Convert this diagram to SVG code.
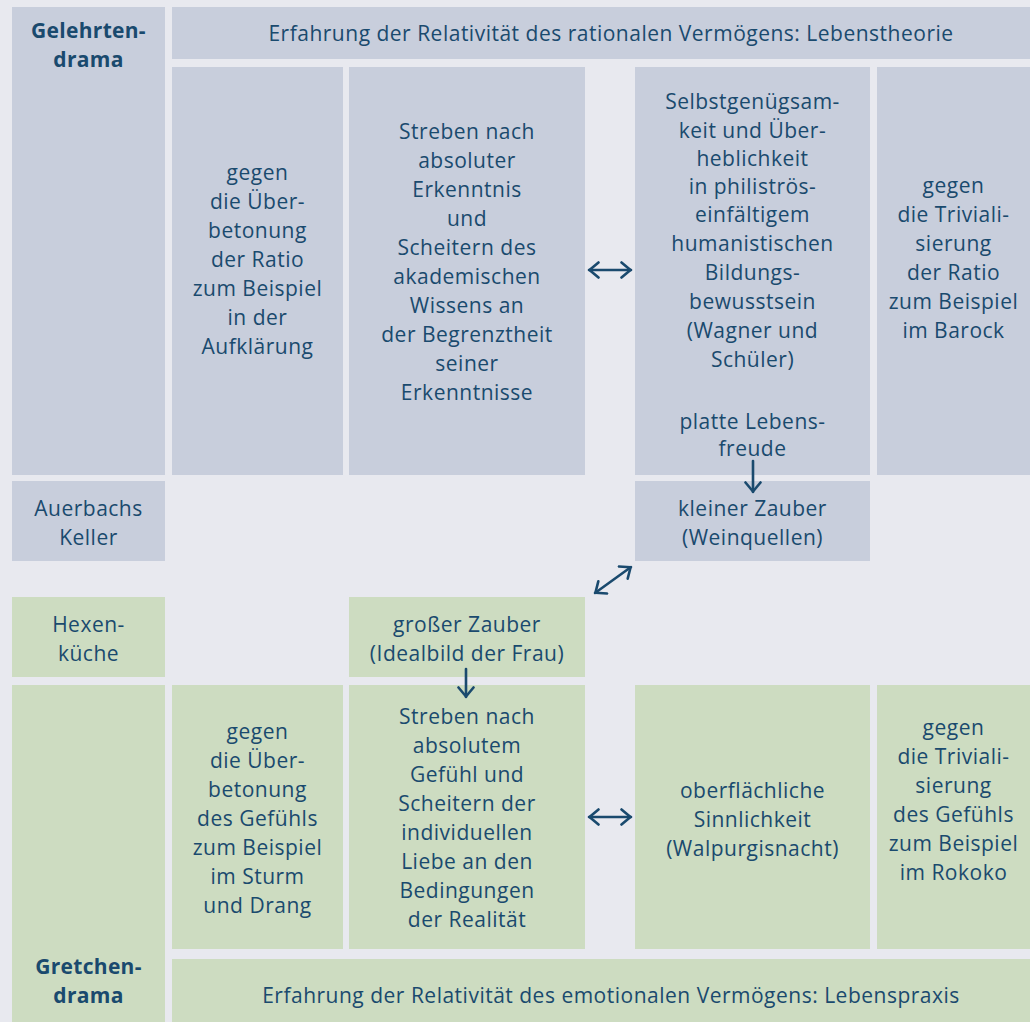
<svg xmlns="http://www.w3.org/2000/svg" width="1030" height="1022" viewBox="0 0 1030 1022">
<defs>
<style>
.bg{fill:#e8e9ef}
.b{fill:#c8cedc}
.g{fill:#cddcc1}
text{font-family:"Open Sans","Noto Sans","Liberation Sans",sans-serif;font-size:21px;letter-spacing:0.5px;fill:#1a4a6e;text-anchor:middle}
.bold{font-weight:bold;letter-spacing:0.3px}
.conn{stroke:#1a4a6e;stroke-width:2.6;fill:none;stroke-linecap:round;stroke-linejoin:round}
</style>
<marker id="ah" viewBox="0 0 12 18" refX="11" refY="9" markerWidth="12" markerHeight="18" markerUnits="userSpaceOnUse" orient="auto-start-reverse">
<path d="M1.5,1.5 L10.5,9 L1.5,16.5" fill="none" stroke="#1a4a6e" stroke-width="2.6" stroke-linecap="round" stroke-linejoin="round"/>
</marker>
</defs>
<rect class="bg" x="0" y="0" width="1030" height="1022"/>

<g id="gelehrtendrama">
<rect class="b" x="12" y="7" width="153" height="468"/>
<text class="bold" x="88.5" y="38">Gelehrten-</text>
<text class="bold" x="88.5" y="67">drama</text>
</g>
<g id="lebenstheorie">
<rect class="b" x="172" y="7" width="858" height="52"/>
<text x="611" y="41">Erfahrung der Relativität des rationalen Vermögens: Lebenstheorie</text>
</g>
<g id="g1">
<rect class="b" x="172" y="67" width="171" height="408"/>
<text x="257.5" y="180">gegen</text>
<text x="257.5" y="209">die Über-</text>
<text x="257.5" y="238">betonung</text>
<text x="257.5" y="267">der Ratio</text>
<text x="257.5" y="296">zum Beispiel</text>
<text x="257.5" y="325">in der</text>
<text x="257.5" y="354">Aufklärung</text>
</g>
<g id="g2">
<rect class="b" x="349" y="67" width="236" height="408"/>
<text x="467" y="139">Streben nach</text>
<text x="467" y="168">absoluter</text>
<text x="467" y="197">Erkenntnis</text>
<text x="467" y="226">und</text>
<text x="467" y="255">Scheitern des</text>
<text x="467" y="284">akademischen</text>
<text x="467" y="313">Wissens an</text>
<text x="467" y="342">der Begrenztheit</text>
<text x="467" y="371">seiner</text>
<text x="467" y="400">Erkenntnisse</text>
</g>
<g id="g3">
<rect class="b" x="635" y="67" width="235" height="408"/>
<text x="752.5" y="109">Selbstgenügsam-</text>
<text x="752.5" y="138">keit und Über-</text>
<text x="752.5" y="166">heblichkeit</text>
<text x="752.5" y="194">in philiströs-</text>
<text x="752.5" y="222">einfältigem</text>
<text x="752.5" y="251">humanistischen</text>
<text x="752.5" y="280">Bildungs-</text>
<text x="752.5" y="309">bewusstsein</text>
<text x="752.5" y="338">(Wagner und</text>
<text x="752.5" y="367">Schüler)</text>
<text x="752.5" y="429">platte Lebens-</text>
<text x="752.5" y="456">freude</text>
</g>
<g id="g4">
<rect class="b" x="877" y="67" width="153" height="408"/>
<text x="953.5" y="193">gegen</text>
<text x="953.5" y="222">die Triviali-</text>
<text x="953.5" y="251">sierung</text>
<text x="953.5" y="280">der Ratio</text>
<text x="953.5" y="309">zum Beispiel</text>
<text x="953.5" y="338">im Barock</text>
</g>
<g id="auerbach">
<rect class="b" x="12" y="481" width="153" height="80"/>
<text x="88.5" y="516">Auerbachs</text>
<text x="88.5" y="545">Keller</text>
</g>
<g id="kleinerZauber">
<rect class="b" x="635" y="481" width="235" height="80"/>
<text x="752.5" y="516">kleiner Zauber</text>
<text x="752.5" y="545">(Weinquellen)</text>
</g>
<g id="hexenkueche">
<rect class="g" x="12" y="597" width="153" height="80"/>
<text x="88.5" y="632">Hexen-</text>
<text x="88.5" y="661">küche</text>
</g>
<g id="grosserZauber">
<rect class="g" x="349" y="597" width="236" height="80"/>
<text x="467" y="632">großer Zauber</text>
<text x="467" y="661">(Idealbild der Frau)</text>
</g>
<g id="gretchendrama">
<rect class="g" x="12" y="685" width="153" height="337"/>
<text class="bold" x="88.5" y="974">Gretchen-</text>
<text class="bold" x="88.5" y="1003">drama</text>
</g>
<g id="h1">
<rect class="g" x="172" y="685" width="171" height="264"/>
<text x="257.5" y="739">gegen</text>
<text x="257.5" y="768">die Über-</text>
<text x="257.5" y="797">betonung</text>
<text x="257.5" y="826">des Gefühls</text>
<text x="257.5" y="855">zum Beispiel</text>
<text x="257.5" y="884">im Sturm</text>
<text x="257.5" y="913">und Drang</text>
</g>
<g id="h2">
<rect class="g" x="349" y="685" width="236" height="264"/>
<text x="467" y="724">Streben nach</text>
<text x="467" y="753">absolutem</text>
<text x="467" y="782">Gefühl und</text>
<text x="467" y="811">Scheitern der</text>
<text x="467" y="840">individuellen</text>
<text x="467" y="869">Liebe an den</text>
<text x="467" y="898">Bedingungen</text>
<text x="467" y="927">der Realität</text>
</g>
<g id="h3">
<rect class="g" x="635" y="685" width="235" height="264"/>
<text x="752.5" y="798">oberflächliche</text>
<text x="752.5" y="827">Sinnlichkeit</text>
<text x="752.5" y="856">(Walpurgisnacht)</text>
</g>
<g id="h4">
<rect class="g" x="877" y="685" width="153" height="264"/>
<text x="953.5" y="735">gegen</text>
<text x="953.5" y="764">die Triviali-</text>
<text x="953.5" y="793">sierung</text>
<text x="953.5" y="822">des Gefühls</text>
<text x="953.5" y="851">zum Beispiel</text>
<text x="953.5" y="880">im Rokoko</text>
</g>
<g id="lebenspraxis">
<rect class="g" x="172" y="959" width="858" height="63"/>
<text x="611" y="1003">Erfahrung der Relativität des emotionalen Vermögens: Lebenspraxis</text>
</g>

<g id="connectors">
<line class="conn" x1="589" y1="270" x2="631" y2="270" marker-start="url(#ah)" marker-end="url(#ah)"/>
<line class="conn" x1="589" y1="817" x2="631" y2="817" marker-start="url(#ah)" marker-end="url(#ah)"/>
<line class="conn" x1="595" y1="593" x2="631" y2="567" marker-start="url(#ah)" marker-end="url(#ah)"/>
<line class="conn" x1="753" y1="461" x2="753" y2="492" marker-end="url(#ah)"/>
<line class="conn" x1="466" y1="669" x2="466" y2="697" marker-end="url(#ah)"/>
</g>
</svg>
